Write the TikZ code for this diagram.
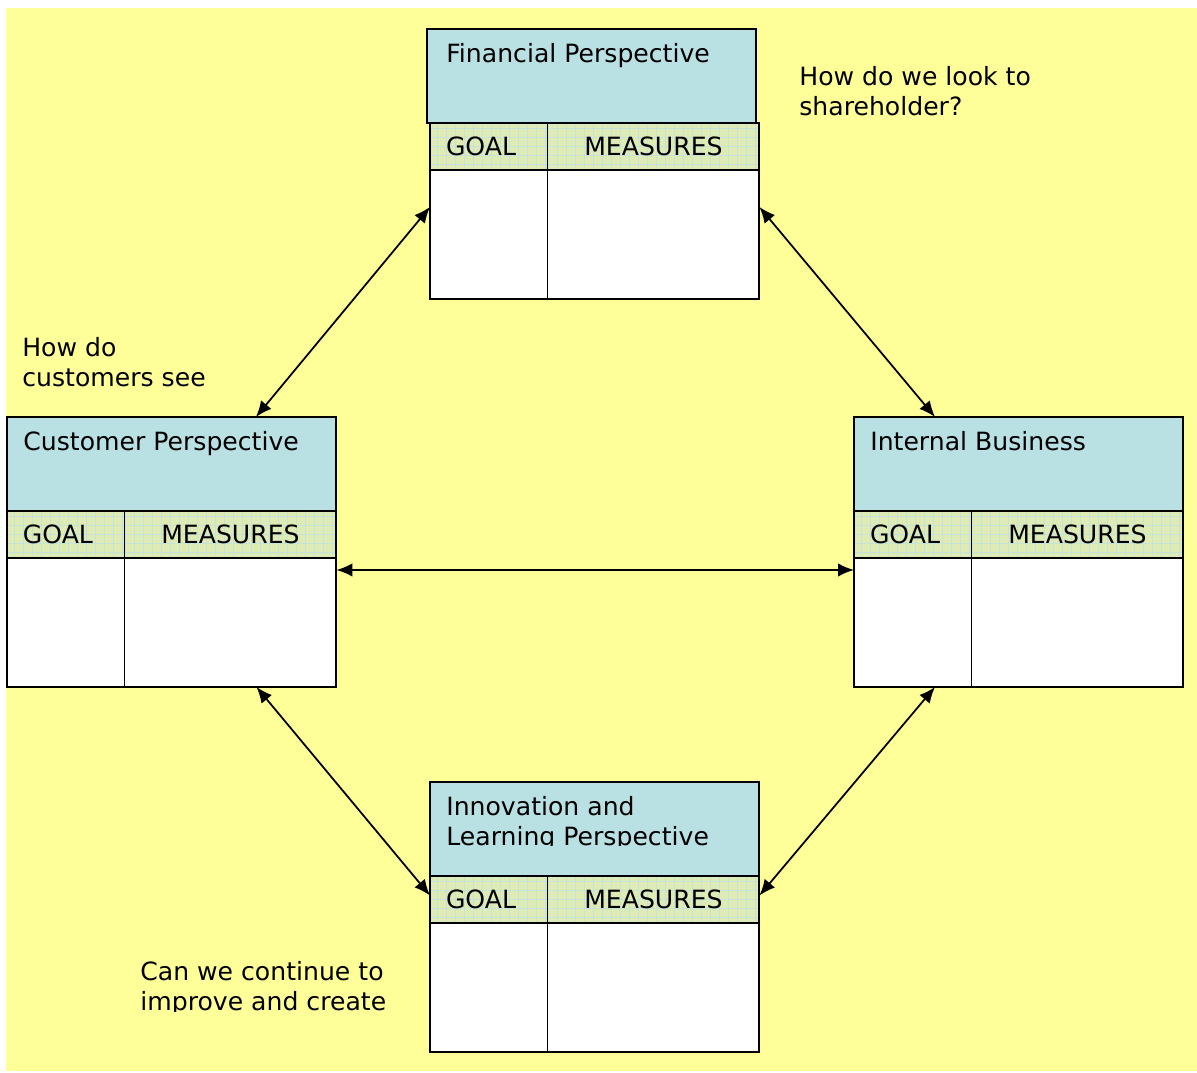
\documentclass[tikz,border=0pt]{standalone}
\usepackage{fontspec}
\setmainfont{DejaVu Sans}
\usetikzlibrary{positioning,arrows.meta}
\definecolor{paper}{HTML}{FFFF99}
\definecolor{titleblue}{HTML}{B9E0E3}
\definecolor{headgreen}{HTML}{DFEBB5}
\definecolor{gridblue}{HTML}{C6E3DA}
\tikzset{%
  titlebox/.style  = {shape=rectangle, draw, line width=1.1pt, fill=titleblue, outer sep=0pt,%
                      anchor=north west, minimum width=6.58cm, minimum height=1.88cm},%
  titletext/.style = {anchor=north west, inner sep=0pt, align=left},%
  headcell/.style  = {shape=rectangle, draw, line width=1.1pt, fill=headgreen, outer sep=0pt,%
                      anchor=north west, minimum height=0.94cm, inner sep=0pt,%
                      path picture={\draw[gridblue, line width=0.3pt, step=0.18cm]%
                        (path picture bounding box.south west) grid (path picture bounding box.north east);}},%
  goalhead/.style  = {headcell, minimum width=2.35cm, text width=1.71cm, align=left},%
  meashead/.style  = {headcell, minimum width=4.24cm},%
  bodycell/.style  = {shape=rectangle, draw, line width=1.1pt, fill=white, outer sep=0pt,%
                      anchor=north west, minimum height=2.58cm},%
  goalbody/.style  = {bodycell, minimum width=2.35cm},%
  measbody/.style  = {bodycell, minimum width=4.24cm},%
  link/.style      = {line width=1pt, {Latex[length=0.32cm,width=0.27cm]}-{Latex[length=0.32cm,width=0.27cm]}},%
  question/.style  = {anchor=north west, inner sep=0pt, align=left}%
}
\begin{document}
\begin{tikzpicture}[x=0.02cm, y=-0.02cm, every node/.style={font=\fontsize{14.3}{17}\selectfont}]
  \useasboundingbox (0,0) rectangle (1197,1072);
  \fill[paper] (6,8) rectangle (1197,1071);

  \node[titlebox] (fin) at (427,29) {};
  \node[goalhead] (fingoal) at ([xshift=0.06cm]fin.south west) {GOAL};
  \node[meashead] (finmeas) at (fingoal.north east) {MEASURES};
  \node[goalbody] (fingbody) at (fingoal.south west) {};
  \node[measbody] (finmbody) at (finmeas.south west) {};
  \node[titletext, below right=0.28cm and 0.38cm of fin.north west] (fintext) {Financial Perspective};

  \node[titlebox] (cust) at (7,417) {};
  \node[goalhead] (custgoal) at (cust.south west) {GOAL};
  \node[meashead] (custmeas) at (custgoal.north east) {MEASURES};
  \node[goalbody] (custgbody) at (custgoal.south west) {};
  \node[measbody] (custmbody) at (custmeas.south west) {};
  \node[titletext, below right=0.28cm and 0.32cm of cust.north west] (custtext) {Customer Perspective};

  \node[titlebox] (intl) at (854,417) {};
  \node[goalhead] (intlgoal) at (intl.south west) {GOAL};
  \node[meashead] (intlmeas) at (intlgoal.north east) {MEASURES};
  \node[goalbody] (intlgbody) at (intlgoal.south west) {};
  \node[measbody] (intlmbody) at (intlmeas.south west) {};
  \node[titletext, below right=0.28cm and 0.32cm of intl.north west] (intltext) {Internal Business};

  \node[titlebox] (inno) at (430,782) {};
  \node[goalhead] (innogoal) at (inno.south west) {GOAL};
  \node[meashead] (innomeas) at (innogoal.north east) {MEASURES};
  \node[goalbody] (innogbody) at (innogoal.south west) {};
  \node[measbody] (innombody) at (innomeas.south west) {};
  \begin{scope}
    \clip (inno.north west) rectangle ([yshift=0.6cm]inno.south east);
    \node[titletext, below right=0.28cm and 0.32cm of inno.north west] (innotext) {Innovation and\\Learning Perspective};
  \end{scope}

  \node[question] (shareq) at (799,66) {How do we look to\\shareholder?};
  \node[question] (custq) at (22,337) {How do\\customers see};
  \begin{scope}
    \clip (130,950) rectangle (420,1011);
    \node[question] (growq) at (140,961) {Can we continue to\\improve and create};
  \end{scope}

  \draw[link] ([yshift=-0.74cm]fingbody.north west) -- ([xshift=-1.6cm]cust.north east);
  \draw[link] ([yshift=-0.74cm]finmbody.north east) -- ([xshift=1.62cm]intl.north west);
  \draw[link] ([yshift=-0.24cm]custmbody.north east) -- ([yshift=-0.24cm]intlgbody.north west);
  \draw[link] ([xshift=-1.6cm]custmbody.south east) -- ([yshift=0.08cm]innogoal.west);
  \draw[link] ([xshift=1.62cm]intlgbody.south west) -- ([yshift=0.08cm]innomeas.east);
\end{tikzpicture}
\end{document}
